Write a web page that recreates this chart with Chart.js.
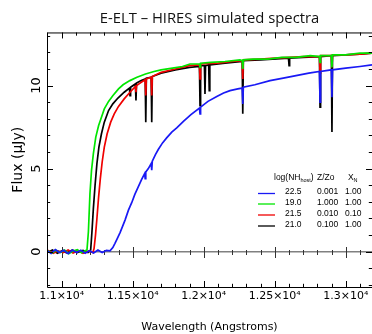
<!DOCTYPE html>
<html>
<head>
<meta charset="utf-8">
<script src="https://cdn.jsdelivr.net/npm/chart.js@4"></script>
<style>
  html, body { margin: 0; padding: 0; background: #fff; }
  #c { display: block; }
</style>
</head>
<body>
<canvas id="c" width="372" height="334"></canvas>
<script>
// Simulated HIRES spectra near the Lyman-alpha break: [wavelength (Å), flux (µJy)]
const blueSpectrum = [
  [10900,0.05],[10925,-0.1],[10955,0.12],[10985,-0.05],[11015,0.08],[11045,-0.12],[11075,0.1],
  [11105,-0.05],[11135,0.08],[11165,-0.1],[11195,0.06],[11225,-0.08],[11255,0.1],[11285,-0.05],
  [11315,0.08],[11340,0.05],[11360,0.25],[11375,0.5],[11392,0.8],[11411,1.15],[11430,1.55],
  [11446,1.9],[11470,2.5],[11493,2.95],[11515,3.45],[11539,3.9],[11563,4.35],[11584,4.7],
  [11588,4.4],[11592,4.8],[11610,5.0],[11630,5.3],[11634,4.9],[11638,5.45],[11660,5.85],
  [11680,6.15],[11710,6.55],[11739,6.85],[11775,7.2],[11810,7.45],[11857,7.85],[11910,8.25],
  [11970,8.65],[11974,8.3],[11978,8.7],[12030,9.05],[12092,9.35],[12140,9.55],[12185,9.7],
  [12240,9.8],[12271,9.85],[12275,8.9],[12279,9.9],[12360,10.05],[12467,10.3],[12560,10.45],
  [12650,10.6],[12740,10.75],[12815,10.85],[12819,9.0],[12823,10.85],[12899,10.95],[12903,9.3],
  [12907,10.95],[13000,11.05],[13100,11.15],[13185,11.25]
];
const greenSpectrum = [
  [10900,0.05],[10930,-0.1],[10960,0.08],[10990,-0.05],[11020,0.1],[11050,-0.12],[11080,0.04],
  [11110,0.12],[11140,-0.06],[11165,0.05],[11178,0.1],[11188,1.2],[11199,3.5],[11210,4.9],
  [11223,5.9],[11240,6.9],[11260,7.6],[11280,8.1],[11300,8.6],[11330,9.05],[11361,9.4],
  [11400,9.8],[11432,10.05],[11480,10.3],[11530,10.5],[11590,10.7],[11650,10.85],[11700,10.95],
  [11780,11.05],[11850,11.15],[11903,11.3],[11970,11.3],[11974,11.1],[11978,11.35],[12050,11.4],
  [12150,11.45],[12255,11.55],[12271,11.5],[12275,11.0],[12279,11.55],[12350,11.6],[12450,11.6],
  [12550,11.7],[12650,11.7],[12750,11.8],[12815,11.75],[12819,11.4],[12823,11.8],[12899,11.8],
  [12903,11.1],[12907,11.85],[13000,11.85],[13100,11.95],[13185,11.95]
];
const redSpectrum = [
  [10900,0.08],[10940,-0.1],[10975,0.05],[11010,-0.06],[11045,0.1],[11080,-0.08],[11115,0.06],
  [11150,-0.1],[11190,0.05],[11220,-0.05],[11228,0.2],[11238,1.0],[11248,2.0],[11260,3.3],
  [11272,4.4],[11285,5.4],[11300,6.3],[11320,7.1],[11345,7.8],[11370,8.3],[11400,8.75],
  [11440,9.2],[11481,9.6],[11519,9.95],[11523,9.6],[11527,10.0],[11560,10.2],[11588,10.35],
  [11592,9.4],[11596,10.4],[11630,10.5],[11634,9.4],[11638,10.55],[11700,10.8],[11800,11.0],
  [11900,11.2],[11970,11.25],[11974,10.4],[11978,11.3],[12100,11.35],[12200,11.45],[12271,11.5],
  [12275,10.4],[12279,11.55],[12400,11.6],[12500,11.65],[12600,11.7],[12700,11.75],[12815,11.75],
  [12819,10.75],[12823,11.8],[12899,11.8],[12903,11.1],[12907,11.85],[13000,11.85],[13100,11.9],
  [13185,11.95]
];
const blackSpectrum = [
  [10900,-0.05],[10935,0.1],[10970,-0.1],[11000,0.05],[11040,-0.08],[11075,0.1],[11110,-0.05],
  [11150,0.08],[11185,-0.05],[11204,0.1],[11213,1.2],[11223,2.6],[11235,4.0],[11248,5.3],
  [11262,6.3],[11280,7.1],[11300,7.8],[11330,8.5],[11360,8.9],[11396,9.25],[11440,9.6],
  [11477,9.85],[11481,9.4],[11485,9.9],[11519,10.1],[11523,9.1],[11527,10.15],[11560,10.3],
  [11588,10.4],[11592,7.8],[11596,10.45],[11630,10.5],[11634,7.8],[11638,10.55],[11700,10.75],
  [11800,10.95],[11900,11.1],[11970,11.15],[11974,8.8],[11978,11.2],[12005,11.2],[12009,9.5],
  [12013,11.2],[12035,11.25],[12039,9.7],[12043,11.25],[12150,11.35],[12271,11.45],[12275,8.3],
  [12279,11.5],[12400,11.55],[12597,11.65],[12601,11.2],[12605,11.65],[12700,11.7],[12815,11.75],
  [12819,8.7],[12823,11.75],[12899,11.8],[12903,7.2],[12907,11.8],[13000,11.85],[13100,11.9],
  [13185,11.95]
];

// Model parameters listed in the key (same order as the spectra above)
const legendLogNH = ['22.5', '19.0', '21.5', '21.0'];
const legendZ = ['0.001', '1.000', '0.010', '0.100'];
const legendXN = ['1.00', '1.00', '0.10', '1.00'];
const seriesColors = ['rgb(25,25,245)', 'rgb(0,230,0)', 'rgb(240,0,0)', 'rgb(0,0,0)'];

// Axis ticks
const xLabelTicks = [11000, 11500, 12000, 12500, 13000];
const xTickText = ['1.1×10⁴', '1.15×10⁴', '1.2×10⁴', '1.25×10⁴', '1.3×10⁴'];
const yLabelTicks = [0, 5, 10];

const toPoints = arr => arr.map(p => ({ x: p[0], y: p[1] }));
const spectra = [blueSpectrum, greenSpectrum, redSpectrum, blackSpectrum];

// Frame, inward tick marks, zero-line ticks and the parameter key
const framePlugin = {
  id: 'framePlugin',
  beforeDatasetsDraw(chart) {
    const { ctx, scales: { x, y } } = chart;
    const y0 = Math.round(y.getPixelForValue(0)) + 0.5;
    ctx.save();
    ctx.strokeStyle = '#333';
    ctx.lineWidth = 1;
    ctx.beginPath();
    for (let v = Math.ceil(x.min / 100) * 100; v <= x.max; v += 100) {
      const px = Math.round(x.getPixelForValue(v)) + 0.5;
      const len = v % 500 === 0 ? 5.5 : 2.5;
      ctx.moveTo(px, y0 - len); ctx.lineTo(px, y0 + len);
    }
    ctx.stroke();
    ctx.restore();
  },
  afterDatasetsDraw(chart) {
    const { ctx, chartArea: a, scales: { x, y } } = chart;
    ctx.save();
    ctx.strokeStyle = '#000';
    ctx.lineWidth = 1;
    ctx.beginPath();
    ctx.rect(a.left + 0.5, a.top + 0.5, a.right - a.left, a.bottom - a.top);
    for (let v = Math.ceil(x.min / 100) * 100; v <= x.max; v += 100) {
      const px = Math.round(x.getPixelForValue(v)) + 0.5;
      const len = v % 500 === 0 ? 6 : 3.2;
      ctx.moveTo(px, a.bottom); ctx.lineTo(px, a.bottom - len);
      ctx.moveTo(px, a.top); ctx.lineTo(px, a.top + len);
    }
    for (let v = Math.ceil(y.min); v <= y.max; v += 1) {
      const py = Math.round(y.getPixelForValue(v)) + 0.5;
      const len = v % 5 === 0 ? 6 : 3.2;
      ctx.moveTo(a.left, py); ctx.lineTo(a.left + len, py);
      ctx.moveTo(a.right, py); ctx.lineTo(a.right - len, py);
    }
    ctx.stroke();
    ctx.restore();
  },
  afterDraw(chart) {
    const { ctx } = chart;
    const fam = '"Liberation Sans", Arial, sans-serif';
    const big = '8.5px ' + fam, small = '5.5px ' + fam;
    ctx.save();
    ctx.fillStyle = '#000';
    ctx.textAlign = 'left';
    ctx.textBaseline = 'middle';
    // header
    const hy = 177.5;
    let hx = 274;
    ctx.font = big; ctx.fillText('log(NH', hx, hy); hx += ctx.measureText('log(NH').width;
    ctx.font = small; ctx.fillText('host', hx, hy + 3); hx += ctx.measureText('host').width;
    ctx.font = big; ctx.fillText(')', hx, hy);
    ctx.fillText('Z/Zo', 317, hy);
    ctx.fillText('X', 348, hy);
    ctx.font = small; ctx.fillText('N', 353.5, hy + 3);
    // rows
    ctx.font = big;
    const rowY = [192, 202.5, 213.5, 224.5];
    for (let i = 0; i < legendLogNH.length; i++) {
      const ry = rowY[i];
      ctx.fillText(legendLogNH[i], 285, ry);
      ctx.fillText(legendZ[i], 317, ry);
      ctx.fillText(legendXN[i], 345, ry);
      ctx.strokeStyle = seriesColors[i];
      ctx.lineWidth = 1.3;
      ctx.beginPath();
      ctx.moveTo(258, ry + 1.5); ctx.lineTo(275, ry + 1.5);
      ctx.stroke();
    }
    ctx.restore();
  }
};

new Chart(document.getElementById('c'), {
  type: 'line',
  data: {
    datasets: spectra.map((s, i) => ({
      data: toPoints(s),
      borderColor: seriesColors[i],
      borderWidth: 1.7,
      pointRadius: 0,
      tension: 0,
      fill: false
    }))
  },
  options: {
    responsive: false,
    animation: false,
    devicePixelRatio: 1,
    layout: { padding: 0 },
    plugins: {
      legend: { display: false },
      tooltip: { enabled: false },
      title: {
        display: true,
        text: 'E-ELT – HIRES simulated spectra',
        fullSize: false,
        color: '#111',
        font: { family: '"Open Sans", sans-serif', size: 14.8, weight: 'normal' },
        padding: { top: 10.1, bottom: 4.6 }
      }
    },
    scales: {
      x: {
        type: 'linear',
        min: 10896.5,
        max: 13185,
        afterBuildTicks: s => { s.ticks = xLabelTicks.map(v => ({ value: v })); },
        afterFit: s => { s.height = 47; },
        ticks: {
          autoSkip: false, minRotation: 0, maxRotation: 0, padding: 2.5, color: '#000',
          font: { family: '"DejaVu Sans"', size: 11 },
          callback: v => xTickText[xLabelTicks.indexOf(v)]
        },
        grid: { display: false, drawTicks: false },
        border: { display: false },
        title: {
          display: true, text: 'Wavelength (Angstroms)', color: '#000',
          font: { family: '"DejaVu Sans"', size: 11 },
          padding: { top: 0, bottom: 0.5 }
        }
      },
      y: {
        type: 'linear',
        min: -2.127,
        max: 13.2,
        afterBuildTicks: s => { s.ticks = yLabelTicks.map(v => ({ value: v })); },
        afterFit: s => { s.width = 47; },
        ticks: {
          minRotation: 90, maxRotation: 90, crossAlign: 'center', padding: 2.2, color: '#000',
          font: { family: '"DejaVu Sans"', size: 13 },
          callback: v => String(v)
        },
        grid: {
          drawTicks: false,
          color: c => (c.tick && c.tick.value === 0) ? '#808080' : 'rgba(0,0,0,0)',
          lineWidth: 1.6
        },
        border: { display: false },
        title: {
          display: true, text: 'Flux (μJy)', color: '#000',
          font: { family: '"DejaVu Sans"', size: 14 },
          padding: { top: 10, bottom: 0 }
        }
      }
    }
  },
  plugins: [framePlugin]
});
</script>
</body>
</html>
